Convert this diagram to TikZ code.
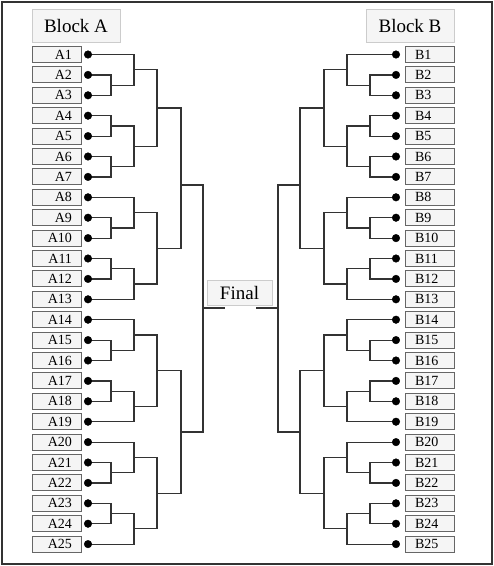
\documentclass[tikz,border=0pt]{standalone}
\usepackage{fontspec}
\setmainfont{Liberation Serif}
\usetikzlibrary{calc}
\definecolor{boxfill}{HTML}{F5F5F5}
\definecolor{boxline}{HTML}{666666}
\definecolor{headline}{HTML}{CCCCCC}
\definecolor{wire}{HTML}{333333}
\tikzset{
  abox/.style={draw=boxline, fill=boxfill, line width=0.9pt, minimum width=49pt, minimum height=16pt,
    inner xsep=0pt, inner ysep=0pt, text width=31pt, align=right, font=\fontsize{14}{14}\selectfont},
  bbox/.style={draw=boxline, fill=boxfill, line width=0.9pt, minimum width=49pt, minimum height=16pt,
    inner xsep=0pt, inner ysep=0pt, text width=29pt, align=left, font=\fontsize{14}{14}\selectfont},
  headbox/.style={draw=headline, fill=boxfill, line width=0.9pt, inner sep=0pt, font=\fontsize{19}{19}\selectfont},
  dot/.style={circle, fill=black, draw=black, line width=0.4pt, inner sep=0pt, minimum size=7.6pt},
  wireline/.style={draw=wire, line width=1.2pt},
}
\begin{document}
\begin{tikzpicture}[x=1pt,y=-1pt]
\useasboundingbox (0,0) rectangle (494,566);
\draw[draw=black!80, line width=1.2pt] (2,2) rectangle (492,564);

\node[headbox, minimum width=88pt, minimum height=33pt] (blockA) at (76,25.8) {Block A};
\node[headbox, minimum width=88pt, minimum height=33pt] (blockB) at (410,25.8) {Block B};
\node[headbox, minimum width=65pt, minimum height=25pt] (final) at (239.5,292.8) {Final};

\foreach \i in {1,...,25} {
  \pgfmathsetmacro\yy{54.5+20.4*(\i-1)}
  \node[abox] (A\i) at (56.5,\yy) {A\i};
  \node[bbox] (B\i) at (429.5,\yy) {B\i};
  \coordinate (dA\i) at (88,\yy);
  \coordinate (dB\i) at (396,\yy);
}

\foreach \s/\la/\lb/\lc/\ld/\le/\lf in {A/111/134/157/181/203/225, B/370/347/324/300/278/256} {
  \coordinate (j\s23) at (\la,85.1);
  \coordinate (j\s1to3) at (\lb,69.8);
  \coordinate (j\s45) at (\la,125.9);
  \coordinate (j\s67) at (\la,166.7);
  \coordinate (j\s4to7) at (\lb,146.3);
  \coordinate (j\s1to7) at (\lc,108.05);
  \coordinate (j\s910) at (\la,227.9);
  \coordinate (j\s8to10) at (\lb,212.6);
  \coordinate (j\s1112) at (\la,268.7);
  \coordinate (j\s11to13) at (\lb,284);
  \coordinate (j\s8to13) at (\lc,248.3);
  \coordinate (j\s1to13) at (\ld,185);
  \coordinate (j\s1516) at (\la,350.3);
  \coordinate (j\s14to16) at (\lb,335);
  \coordinate (j\s1718) at (\la,391.1);
  \coordinate (j\s17to19) at (\lb,406.4);
  \coordinate (j\s14to19) at (\lc,370.7);
  \coordinate (j\s2122) at (\la,472.7);
  \coordinate (j\s20to22) at (\lb,457.4);
  \coordinate (j\s2324) at (\la,513.5);
  \coordinate (j\s23to25) at (\lb,528.8);
  \coordinate (j\s20to25) at (\lc,493.1);
  \coordinate (j\s14to25) at (\ld,431.9);
  \coordinate (j\s root) at (\le,308);
  \coordinate (f\s) at (\lf,308);

  \draw[wireline] (d\s2) -| (j\s23) |- (d\s3);
  \draw[wireline] (d\s1) -| (j\s1to3) |- (j\s23);
  \draw[wireline] (d\s4) -| (j\s45) |- (d\s5);
  \draw[wireline] (d\s6) -| (j\s67) |- (d\s7);
  \draw[wireline] (j\s45) -| (j\s4to7) |- (j\s67);
  \draw[wireline] (j\s1to3) -| (j\s1to7) |- (j\s4to7);
  \draw[wireline] (d\s9) -| (j\s910) |- (d\s10);
  \draw[wireline] (d\s8) -| (j\s8to10) |- (j\s910);
  \draw[wireline] (d\s11) -| (j\s1112) |- (d\s12);
  \draw[wireline] (j\s1112) -| (j\s11to13) |- (d\s13);
  \draw[wireline] (j\s8to10) -| (j\s8to13) |- (j\s11to13);
  \draw[wireline] (j\s1to7) -| (j\s1to13) |- (j\s8to13);
  \draw[wireline] (d\s15) -| (j\s1516) |- (d\s16);
  \draw[wireline] (d\s14) -| (j\s14to16) |- (j\s1516);
  \draw[wireline] (d\s17) -| (j\s1718) |- (d\s18);
  \draw[wireline] (j\s1718) -| (j\s17to19) |- (d\s19);
  \draw[wireline] (j\s14to16) -| (j\s14to19) |- (j\s17to19);
  \draw[wireline] (d\s21) -| (j\s2122) |- (d\s22);
  \draw[wireline] (d\s20) -| (j\s20to22) |- (j\s2122);
  \draw[wireline] (d\s23) -| (j\s2324) |- (d\s24);
  \draw[wireline] (j\s2324) -| (j\s23to25) |- (d\s25);
  \draw[wireline] (j\s20to22) -| (j\s20to25) |- (j\s23to25);
  \draw[wireline] (j\s14to19) -| (j\s14to25) |- (j\s20to25);
  \draw[wireline] (j\s1to13) -| (j\s root) |- (j\s14to25);
  \draw[wireline] (j\s root) -- (f\s);
}

\foreach \i in {1,...,25} {
  \node[dot] (dotA\i) at (dA\i) {};
  \node[dot] (dotB\i) at (dB\i) {};
}
\end{tikzpicture}
\end{document}
